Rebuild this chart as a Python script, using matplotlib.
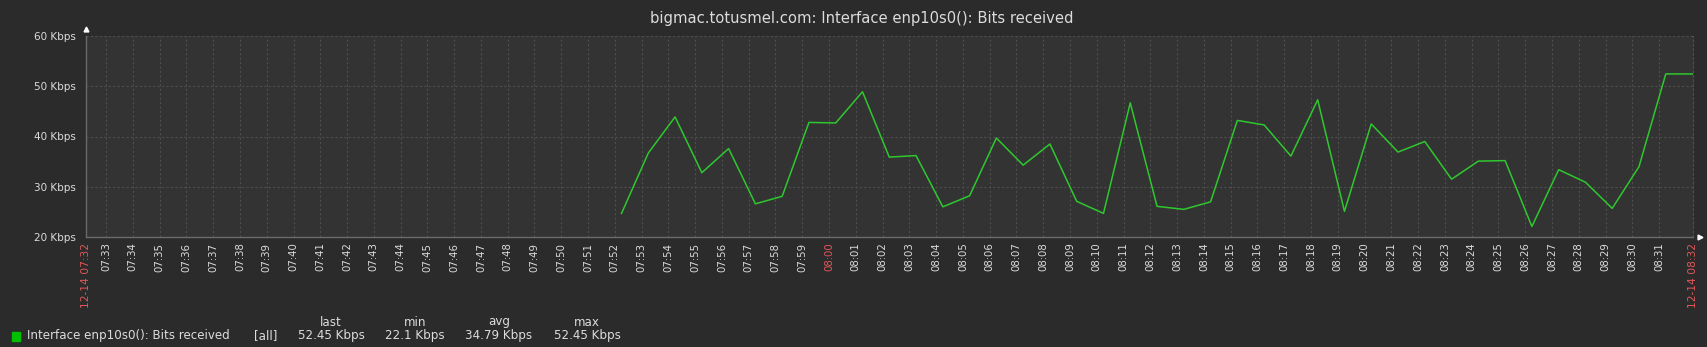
import matplotlib
matplotlib.use("Agg")
import matplotlib.pyplot as plt

# samples (one per minute, taken at :15 s) in Kbps
times = ["07:52:15", "07:53:15", "07:54:15", "07:55:15", "07:56:15", "07:57:15",
         "07:58:15", "07:59:15", "08:00:15", "08:01:15", "08:02:15", "08:03:15",
         "08:04:15", "08:05:15", "08:06:15", "08:07:15", "08:08:15", "08:09:15",
         "08:10:15", "08:11:15", "08:12:15", "08:13:15", "08:14:15", "08:15:15",
         "08:16:15", "08:17:15", "08:18:15", "08:19:15", "08:20:15", "08:21:15",
         "08:22:15", "08:23:15", "08:24:15", "08:25:15", "08:26:15", "08:27:15",
         "08:28:15", "08:29:15", "08:30:15", "08:31:15"]
values = [24.7, 36.7, 43.9, 32.8, 37.6, 26.6, 28.1, 42.8, 42.7, 48.9,
          35.9, 36.2, 26.0, 28.2, 39.7, 34.3, 38.5, 27.1, 24.7, 46.7,
          26.1, 25.5, 27.0, 43.2, 42.3, 36.1, 47.3, 25.1, 42.5, 36.9,
          39.0, 31.5, 35.1, 35.2, 22.1, 33.4, 30.9, 25.7, 34.0, 52.45]

window_start = "07:32:15"
window_end = "08:32:16"
start_label = "12-14 07:32"
end_label = "12-14 08:32"
minute_labels = ["07:%02d" % m for m in range(33, 60)] + ["08:%02d" % m for m in range(0, 32)]

y_ticks = [20, 30, 40, 50, 60]
title = "bigmac.totusmel.com: Interface enp10s0(): Bits received"
series_name = "Interface enp10s0(): Bits received"
stat_names = ["last", "min", "avg", "max"]
stat_values = ["52.45 Kbps", "22.1 Kbps", "34.79 Kbps", "52.45 Kbps"]

BG = "#2b2b2b"
PLOT_BG = "#333333"
GRID = "#4e4e4e"
TXT = "#dcdcdc"
RED = "#e0585a"
GREEN = "#2ec82e"


def to_min(s):
    # minutes since 07:32:00
    parts = [int(p) for p in s.split(":")]
    h, m = parts[0], parts[1]
    sec = parts[2] if len(parts) > 2 else 0
    return (h * 60 + m + sec / 60.0) - (7 * 60 + 32)


x = [to_min(t) for t in times]
x0, x1 = to_min(window_start), to_min(window_end)
# zabbix keeps drawing the last value up to the end of the window
line_x = x + [x1]
line_y = values + [values[-1]]

fig = plt.figure(figsize=(17.07, 3.47), dpi=100, facecolor=BG)
ax = fig.add_axes([86 / 1707, 110 / 347, 1607 / 1707, 201 / 347])
ax.set_facecolor(PLOT_BG)

ax.plot(line_x, line_y, color=GREEN, lw=1.1, zorder=3)

ax.set_xlim(x0, x1)
ax.set_ylim(20, 60)

# x ticks: every minute, plus the window ends
tick_pos = [x0] + [to_min(s) for s in minute_labels] + [x1]
tick_lab = [start_label] + minute_labels + [end_label]
ax.set_xticks(tick_pos)
ax.set_xticklabels(tick_lab, rotation=90, fontsize=7.3, color=TXT)
for lab in ax.get_xticklabels():
    if lab.get_text() in (start_label, end_label):
        lab.set_color(RED)
        lab.set_fontsize(7.7)
    elif lab.get_text() == "08:00":
        lab.set_color(RED)
ax.set_yticks(y_ticks)
ax.set_yticklabels(["%d Kbps" % v for v in y_ticks], fontsize=7.5, color=TXT)
ax.tick_params(axis="both", length=0)
ax.tick_params(axis="x", pad=4)
ax.tick_params(axis="y", pad=7)

ax.grid(True, color=GRID, linestyle=(0, (2, 2)), linewidth=0.8)

ax.spines["top"].set_visible(False)
ax.spines["right"].set_color(GRID)
ax.spines["right"].set_linestyle((0, (2, 2)))
ax.spines["right"].set_linewidth(0.8)
for side in ["left", "bottom"]:
    ax.spines[side].set_color("#6a6a6a")
    ax.spines[side].set_linewidth(1)

# little arrow heads on the axes
ax.plot([0], [1.035], marker="^", color="white", markersize=3.5,
        transform=ax.transAxes, clip_on=False)
ax.plot([1.0045], [0], marker=">", color="white", markersize=3.5,
        transform=ax.transAxes, clip_on=False)

fig.text(862 / 1707, 1 - 18 / 347, title, color=TXT, fontsize=10.6,
         ha="center", va="center")

# legend at the bottom
ly = 1 - 336 / 347
hy = 1 - 322 / 347
fig.patches.append(plt.Rectangle((12 / 1707, ly - 4.5 / 347), 8 / 1707, 9 / 347,
                                 color="#00c000", transform=fig.transFigure))
fig.text(27 / 1707, ly, series_name, color=TXT, fontsize=8.6, va="center")
fig.text(254 / 1707, ly, "[all]", color=TXT, fontsize=8.6, va="center")
stat_x = [331, 415, 499, 587]
for name, val, sx in zip(stat_names, stat_values, stat_x):
    fig.text(sx / 1707, hy, name, color=TXT, fontsize=8.6, ha="center", va="center")
    fig.text(sx / 1707, ly, val, color=TXT, fontsize=8.6, ha="center", va="center")

fig.savefig("out.png", dpi=100, facecolor=BG)
